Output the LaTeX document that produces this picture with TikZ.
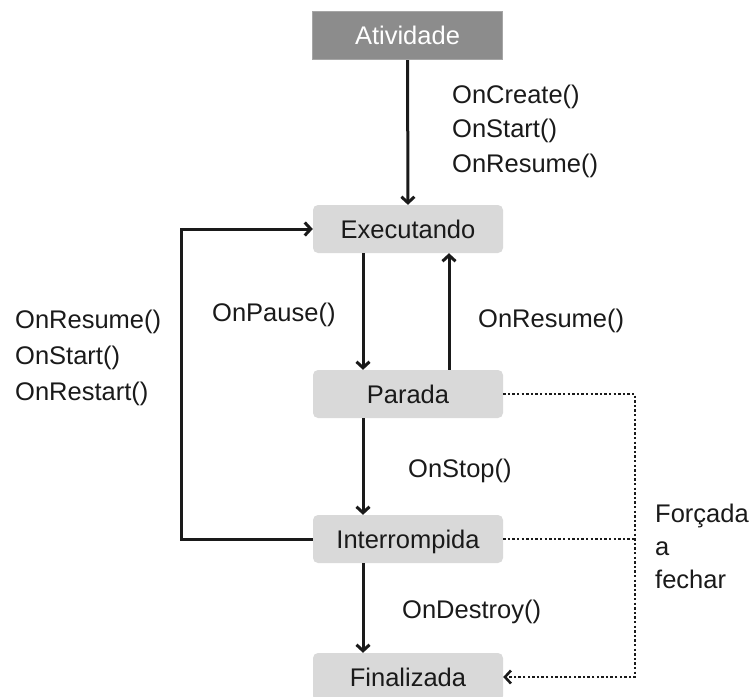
\documentclass[tikz,border=0pt]{standalone}
\usepackage{fontspec}
\setmainfont{Liberation Sans}
\usetikzlibrary{arrows.meta}
\definecolor{boxgray}{HTML}{D9D9D9}
\definecolor{darkbox}{HTML}{8C8C8C}
\definecolor{darkedge}{HTML}{A6A6A6}
\definecolor{ink}{HTML}{1A1A1A}
\begin{document}
\begin{tikzpicture}[x=1pt,y=-1pt,
  every node/.style={font=\fontsize{25.5}{30}\selectfont, text=ink},
  state/.style={rectangle, rounded corners=5pt, fill=boxgray,
    minimum width=190pt, minimum height=48pt, text height=18pt, text depth=0pt, inner sep=0pt},
  startbox/.style={rectangle, fill=darkbox, draw=darkedge, line width=1pt,
    minimum width=190pt, minimum height=48pt, text height=18pt, text depth=0pt, inner sep=0pt, text=white},
  lbl/.style={anchor=base west, inner sep=0pt},
  flow/.style={line width=3pt, draw=ink, -{Straight Barb[length=6pt,width=13pt]}},
  forced/.style={line width=2.6pt, draw=ink, dash pattern=on 2.4pt off 2.2pt},
  forcedarrow/.style={forced, -{Straight Barb[length=6pt,width=13pt]}}
]
\useasboundingbox (0,0) rectangle (756,697);
\begin{scope}
\clip (0,0) rectangle (756,697);

% states
\node[startbox] (act) at (407.5,35.5) {Atividade};
\node[state] (exe) at (408,229) {Executando};
\node[state] (par) at (408,394) {Parada};
\node[state] (int) at (408,539) {Interrompida};
\node[state] (fin) at (408,677) {Finalizada};

% helper coordinates for vertical lanes and bends
\coordinate (ldown) at (363,0);
\coordinate (lup) at (449,0);
\coordinate (loop) at (181,0);
\coordinate (fc) at (635,0);

% transitions
\draw[flow] (act) -- (exe);
\draw[flow] (exe.south -| ldown) -- (par.north -| ldown);
\draw[flow] (par.north -| lup) -- (exe.south -| lup);
\draw[flow] (par.south -| ldown) -- (int.north -| ldown);
\draw[flow] (int.south -| ldown) -- (fin.north -| ldown);
\draw[flow] (int.west) -- (int.west -| loop) |- (exe.west);

% forced close
\draw[forced] (int.east) -- (int.east -| fc);
\draw[forcedarrow] (par.east) -- (par.east -| fc) |- (fin.east);
\end{scope}

% labels
\node[lbl] (l1) at (452,103) {OnCreate()};
\node[lbl] (l2) at (452,137.5) {OnStart()};
\node[lbl] (l3) at (452,172) {OnResume()};
\node[lbl] (l4) at (212,321) {OnPause()};
\node[lbl] (l5) at (478,327) {OnResume()};
\node[lbl] (l6) at (15,328) {OnResume()};
\node[lbl] (l7) at (15,364) {OnStart()};
\node[lbl] (l8) at (15,400) {OnRestart()};
\node[lbl] (l9) at (408,477) {OnStop()};
\node[lbl] (l10) at (402,618) {OnDestroy()};
\node[lbl] (l11) at (655,522) {Forçada};
\node[lbl] (l12) at (655,555) {a};
\node[lbl] (l13) at (655,588) {fechar};
\end{tikzpicture}
\end{document}
